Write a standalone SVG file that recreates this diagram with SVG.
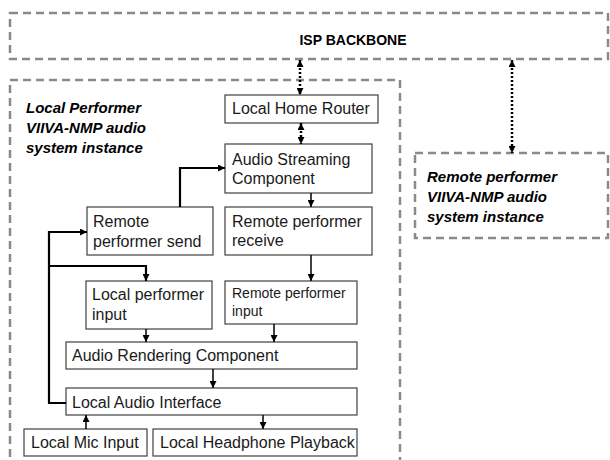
<svg xmlns="http://www.w3.org/2000/svg" width="610" height="460" viewBox="0 0 610 460">
<defs>
<style>
.dash{fill:none;stroke:#8a8a8a;stroke-width:2.5;stroke-dasharray:8,5}
.box{fill:#fff;stroke:#404040;stroke-width:1.2}
.t{font-family:"Liberation Sans",Arial,sans-serif;font-size:16px;fill:#1a1a1a}
.ts{font-family:"Liberation Sans",Arial,sans-serif;font-size:14px;fill:#1a1a1a}
.title{font-family:"Liberation Sans",Arial,sans-serif;font-size:15px;font-weight:bold;font-style:italic;fill:#000}
.isp{font-family:"Liberation Sans",Arial,sans-serif;font-size:14px;font-weight:bold;fill:#000}
.dot{fill:none;stroke:#000;stroke-width:2.5;stroke-dasharray:2,2}
.thick{fill:none;stroke:#000;stroke-width:2.2}
.thin{fill:none;stroke:#000;stroke-width:1.5}
</style>
<marker id="ah" viewBox="0 0 10 10" refX="10" refY="5" markerWidth="7" markerHeight="7" markerUnits="userSpaceOnUse" orient="auto-start-reverse">
<path d="M0,0 L10,5 L0,10 z" fill="#000"/>
</marker>
</defs>
<rect width="610" height="460" fill="#fff"/>

<g id="isp-backbone">
<rect class="dash" x="10" y="13" width="598" height="46"/>
<text class="isp" x="353" y="45" text-anchor="middle">ISP BACKBONE</text>
</g>

<g id="local-instance">
<path class="dash" d="M10,470 V80 H400 V470"/>
<text class="title" x="26" y="113">Local Performer</text>
<text class="title" x="26" y="133">VIIVA-NMP audio</text>
<text class="title" x="26" y="153">system instance</text>
</g>

<g id="remote-instance">
<rect class="dash" x="415" y="153" width="193" height="85"/>
<text class="title" x="427" y="182">Remote performer</text>
<text class="title" x="427" y="202">VIIVA-NMP audio</text>
<text class="title" x="427" y="222">system instance</text>
</g>

<g id="local-home-router">
<rect class="box" x="225" y="95" width="153" height="28"/>
<text class="t" x="232" y="114">Local Home Router</text>
</g>

<g id="audio-streaming">
<rect class="box" x="225" y="144" width="147" height="49"/>
<text class="t" x="232" y="165">Audio Streaming</text>
<text class="t" x="232" y="184">Component</text>
</g>

<g id="remote-receive">
<rect class="box" x="225" y="207" width="147" height="48"/>
<text class="t" x="232" y="227">Remote performer</text>
<text class="t" x="232" y="246">receive</text>
</g>

<g id="remote-send">
<rect class="box" x="87" y="207" width="126" height="48"/>
<text class="t" x="93" y="227">Remote</text>
<text class="t" x="93" y="247">performer send</text>
</g>

<g id="local-input">
<rect class="box" x="86" y="281" width="126" height="48"/>
<text class="t" x="92" y="300">Local performer</text>
<text class="t" x="92" y="320">input</text>
</g>

<g id="remote-input">
<rect class="box" x="225" y="281" width="132" height="43"/>
<text class="ts" x="232" y="298">Remote performer</text>
<text class="ts" x="232" y="316">input</text>
</g>

<g id="audio-rendering">
<rect class="box" x="66" y="342" width="291" height="27"/>
<text class="t" x="72" y="361">Audio Rendering Component</text>
</g>

<g id="local-audio-interface">
<rect class="box" x="66" y="388" width="291" height="27"/>
<text class="t" x="72" y="408">Local Audio Interface</text>
</g>

<g id="local-mic">
<rect class="box" x="24" y="429" width="123" height="27"/>
<text class="t" x="31" y="448">Local Mic Input</text>
</g>

<g id="local-headphone">
<rect class="box" x="153" y="429" width="204" height="27"/>
<text class="t" x="160" y="448">Local Headphone Playback</text>
</g>

<g id="connectors">
<path class="dot" d="M300,60 V95" marker-start="url(#ah)" marker-end="url(#ah)"/>
<path class="dot" d="M301,123 V144" marker-start="url(#ah)" marker-end="url(#ah)"/>
<path class="dot" d="M512,60 V153" marker-start="url(#ah)" marker-end="url(#ah)"/>
<path class="thin" d="M311,193 V207" marker-end="url(#ah)"/>
<path class="thin" d="M311,255 V281" marker-end="url(#ah)"/>
<path class="thick" d="M180,207 V168 H225" marker-end="url(#ah)"/>
<path class="thick" d="M66,403 H49 V232 H87" marker-end="url(#ah)"/>
<path class="thick" d="M49,266 H146 V281" marker-end="url(#ah)"/>
<path class="thin" d="M146,329 V342" marker-end="url(#ah)"/>
<path class="thin" d="M274,324 V342" marker-end="url(#ah)"/>
<path class="thin" d="M213,369 V388" marker-end="url(#ah)"/>
<path class="thin" d="M263,415 V429" marker-end="url(#ah)"/>
<path class="thin" d="M86,429 V415" marker-end="url(#ah)"/>
</g>
</svg>
